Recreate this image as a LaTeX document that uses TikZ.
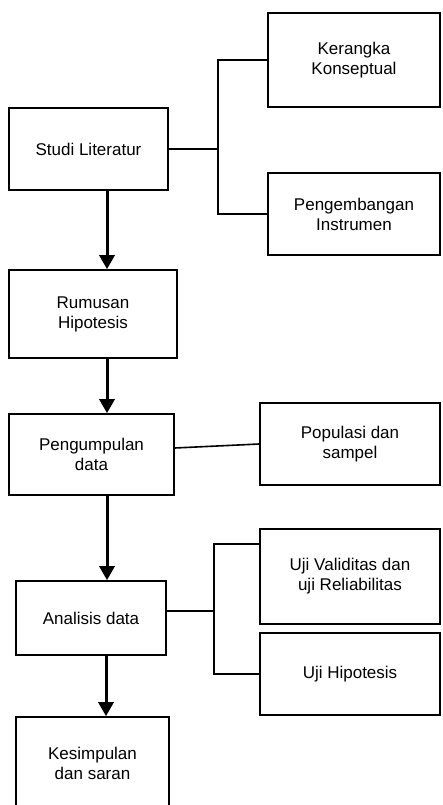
\documentclass[tikz,border=0pt]{standalone}
\usepackage{fontspec}
\setmainfont{Liberation Sans}
\usetikzlibrary{arrows.meta}
\tikzset{
  box/.style={draw, line width=1.6pt, inner sep=0pt, align=center,
    font=\fontsize{17}{20}\selectfont},
  link/.style={line width=1.6pt},
  arr/.style={line width=3pt, -{Triangle[width=15pt,length=14pt]}},
}
\begin{document}
\begin{tikzpicture}[x=1pt,y=-1pt]
\useasboundingbox (0,0) rectangle (442,805);
\clip (0,0) rectangle (442,805);
% boxes
\node[box, minimum width=159pt, minimum height=82pt] (stud) at (88.5,149) {Studi Literatur};
\node[box, minimum width=172pt, minimum height=94pt] (ker) at (354,60) {Kerangka\\Konseptual};
\node[box, minimum width=172pt, minimum height=82pt] (peng) at (354,214) {Pengembangan\\Instrumen};
\node[box, minimum width=168pt, minimum height=88pt] (rum) at (93,314) {Rumusan\\Hipotesis};
\node[box, minimum width=165pt, minimum height=81pt] (pgd) at (91.5,454.5) {Pengumpulan\\data};
\node[box, minimum width=180pt, minimum height=82pt] (pop) at (350,444) {Populasi dan\\sampel};
\node[box, minimum width=150pt, minimum height=74pt] (ana) at (91,618) {Analisis data};
\node[box, minimum width=180pt, minimum height=95pt] (uv) at (350,576.5) {Uji Validitas dan\\uji Reliabilitas};
\node[box, minimum width=180pt, minimum height=82pt] (uh) at (350,674) {Uji Hipotesis};
\node[box, minimum width=153pt, minimum height=92pt] (kes) at (92.5,763) {Kesimpulan\\dan saran};
% junctions and arrow columns
\coordinate (j1) at (218,149);
\coordinate (j2) at (214,611);
\coordinate (a1) at (107,0);
\coordinate (a2) at (106,0);
% connectors
\draw[link] (stud.east) -- (j1);
\draw[link] (ker.west) -| (j1);
\draw[link] (peng.west) -| (j1);
\draw[link] ([yshift=6.5pt]pgd.east) -- (pop.west);
\draw[link] ([yshift=7pt]ana.east) -- (j2);
\draw[link] ([yshift=32.5pt]uv.west) -| (j2);
\draw[link] (uh.west) -| (j2);
% arrows
\draw[arr] (stud.south -| a1) -- (rum.north -| a1);
\draw[arr] (rum.south -| a1) -- (pgd.north -| a1);
\draw[arr] (pgd.south -| a1) -- (ana.north -| a1);
\draw[arr] (ana.south -| a2) -- (kes.north -| a2);
\end{tikzpicture}
\end{document}
